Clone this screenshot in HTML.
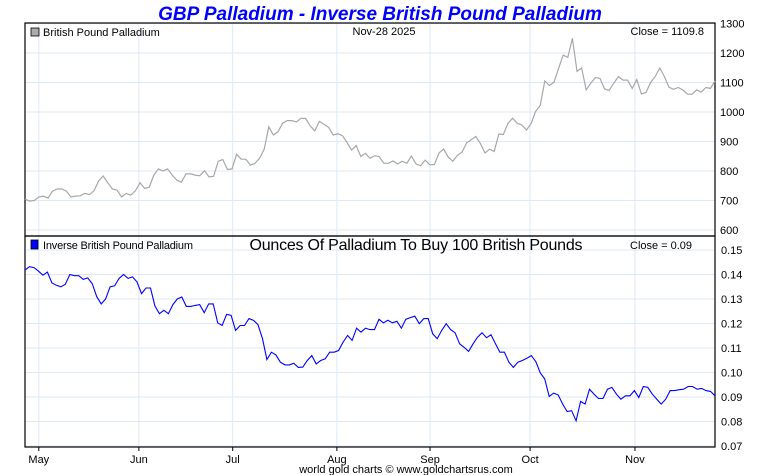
<!DOCTYPE html>
<html><head><meta charset="utf-8"><style>
body{margin:0;background:#fff;}
svg{display:block;font-family:"Liberation Sans",sans-serif;}
</style></head><body>
<svg id="c" width="760" height="475" viewBox="0 0 760 475">
<text x="380" y="20" text-anchor="middle" font-size="19" font-weight="bold" font-style="italic" fill="#0000ff">GBP Palladium - Inverse British Pound Palladium</text>
<g id="grid"></g>
<rect x="25" y="23" width="690" height="213" fill="none" stroke="#000" stroke-width="1.2"/>
<rect x="25" y="236" width="690" height="211" fill="none" stroke="#000" stroke-width="1.2"/>
<rect x="31" y="28" width="8" height="8" fill="#aaa" stroke="#000" stroke-width="0.8"/>
<text x="43" y="36" font-size="11">British Pound Palladium</text>
<text x="384" y="35" text-anchor="middle" font-size="11">Nov-28  2025</text>
<text x="704" y="35" text-anchor="end" font-size="11">Close = 1109.8</text>
<rect x="31" y="240" width="7" height="9" fill="#0000ff" stroke="#000" stroke-width="0.8"/>
<text x="43" y="249" font-size="11" textLength="150">Inverse British Pound Palladium</text>
<text x="416" y="250" text-anchor="middle" font-size="16" textLength="333">Ounces Of Palladium To Buy 100 British Pounds</text>
<text x="692" y="249" text-anchor="end" font-size="11" textLength="62">Close = 0.09</text>
<text x="406" y="473" text-anchor="middle" font-size="11">world gold charts © www.goldchartsrus.com</text>
<g id="series"></g>
</svg>
<script>
const months=["May","Jun","Jul","Aug","Sep","Oct","Nov"];
const monthPos=[0.02,0.165,0.301,0.452,0.587,0.732,0.884];
const topTicks=[600,700,800,900,1000,1100,1200,1300];
const botTicks=[0.07,0.08,0.09,0.10,0.11,0.12,0.13,0.14,0.15];
const topPrices=[705,698,700,712,715,708,732,739,739,732,712,715,716,724,720,733,766,783,760,739,735,712,724,718,733,760,741,745,786,807,800,807,786,769,762,790,790,786,784,801,780,782,833,839,805,807,857,840,840,820,826,843,874,950,922,933,962,971,971,966,979,978,953,936,968,958,948,922,926,920,897,871,886,849,860,843,852,849,826,
826,834,824,833,826,851,824,818,837,821,822,861,875,847,833,853,864,895,906,917,893,861,874,866,925,924,962,979,962,956,939,960,1002,1022,1105,1090,1101,1148,1193,1185,1250,1138,1149,1075,1098,1117,1114,1078,1073,1098,1120,1108,1108,1080,1110,1061,1066,1100,1120,1149,1120,1084,1077,1083,1075,1061,1060,1075,1067,1083,1080,1105];
const inverse=[0.1418,0.1432,0.1428,0.1414,0.1397,0.141,0.1366,0.1356,0.135,0.136,0.140,0.1395,0.1395,0.138,0.1386,0.1363,0.131,0.128,0.130,0.135,0.1354,0.1384,0.140,0.1384,0.139,0.137,0.1322,0.1345,0.1345,0.1272,0.124,0.1254,0.124,0.1277,0.130,0.1308,0.127,0.127,0.1274,0.1277,0.1244,0.128,0.128,0.1203,0.1192,0.1237,0.1233,0.1172,0.1192,0.1192,0.122,0.1213,0.1195,0.1138,0.1053,0.1083,0.1072,0.1042,0.1031,0.1031,0.1038,0.1021,0.1022,0.1049,0.1069,0.1035,0.1049,0.1056,0.1083,0.1083,0.109,0.1124,0.1151,0.1131,0.1181,0.1165,0.1181,0.1175,0.1175,0.1217,0.1203,0.1213,0.1203,0.1209,0.1181,0.1217,0.1224,0.123,0.1199,0.122,0.122,0.1158,0.1138,0.1172,0.1199,0.1175,0.1162,0.1117,0.1103,0.1086,0.1117,0.1144,0.1162,0.1142,0.1154,0.1117,0.1083,0.1083,0.1042,0.1021,0.1042,0.1049,0.1058,0.1069,0.1045,0.0998,0.0974,0.0902,0.0916,0.0908,0.0871,0.0841,0.0844,0.0803,0.0882,0.0871,0.0932,0.0912,0.0894,0.0894,0.0932,0.0939,0.0912,0.0891,0.0905,0.0905,0.0926,0.0898,0.0943,0.0939,0.0912,0.0891,0.0871,0.0891,0.0926,0.0926,0.093,0.0932,0.0943,0.0943,0.0932,0.0935,0.0926,0.0923,0.0905];

const NS="http://www.w3.org/2000/svg";
const X0=25,X1=715;
const yTop=v=>230-(v-600)/700*206.5;
const yBot=v=>446-(v-0.07)/0.08*196;
const xFrac=f=>X0+f*(X1-X0);
const xIdx=(i,n)=>X0+i*(X1-X0)/(n-1);
const grid=document.getElementById('grid');
const series=document.getElementById('series');
function mk(tag,attrs,parent){const e=document.createElementNS(NS,tag);for(const k in attrs)e.setAttribute(k,attrs[k]);parent.appendChild(e);return e;}
topTicks.forEach(v=>{
  const l=mk('line',{x1:X0,x2:X1,y1:yTop(v),y2:yTop(v),stroke:'#dde9f5'},grid);
  
  
  const t=mk('text',{x:X1+5,y:yTop(v)+4,'font-size':11},grid);
  t.textContent=v;
  
  
});
botTicks.forEach(v=>{
  const l=mk('line',{x1:X0,x2:X1,y1:yBot(v),y2:yBot(v),stroke:'#dde9f5'},grid);
  
  
  const t=mk('text',{x:X1+6,y:yBot(v)+4,'font-size':11},grid);
  t.textContent=v.toFixed(2);
  
  
});
months.forEach((m,i)=>{
  const x=xFrac(monthPos[i]);
  const l=mk('line',{x1:x,x2:x,y1:23,y2:447,stroke:'#dde9f5'},grid);
  
  
  const tk=mk('line',{x1:x,x2:x,y1:447,y2:451,stroke:'#000'},grid);
  
  
  const t=mk('text',{x:x,y:463,'font-size':11,'text-anchor':'middle'},grid);
  t.textContent=m;
  
  
});
const p1=mk('polyline',{points:topPrices.map((v,i)=>xIdx(i,topPrices.length).toFixed(1)+','+yTop(v).toFixed(1)).join(' '),fill:'none',stroke:'#a8a8a8','stroke-width':1.2},series);


const p2=mk('polyline',{points:inverse.map((v,i)=>xIdx(i,inverse.length).toFixed(1)+','+yBot(v).toFixed(1)).join(' '),fill:'none',stroke:'#0000ff','stroke-width':1.1},series);


</script>
</body></html>
